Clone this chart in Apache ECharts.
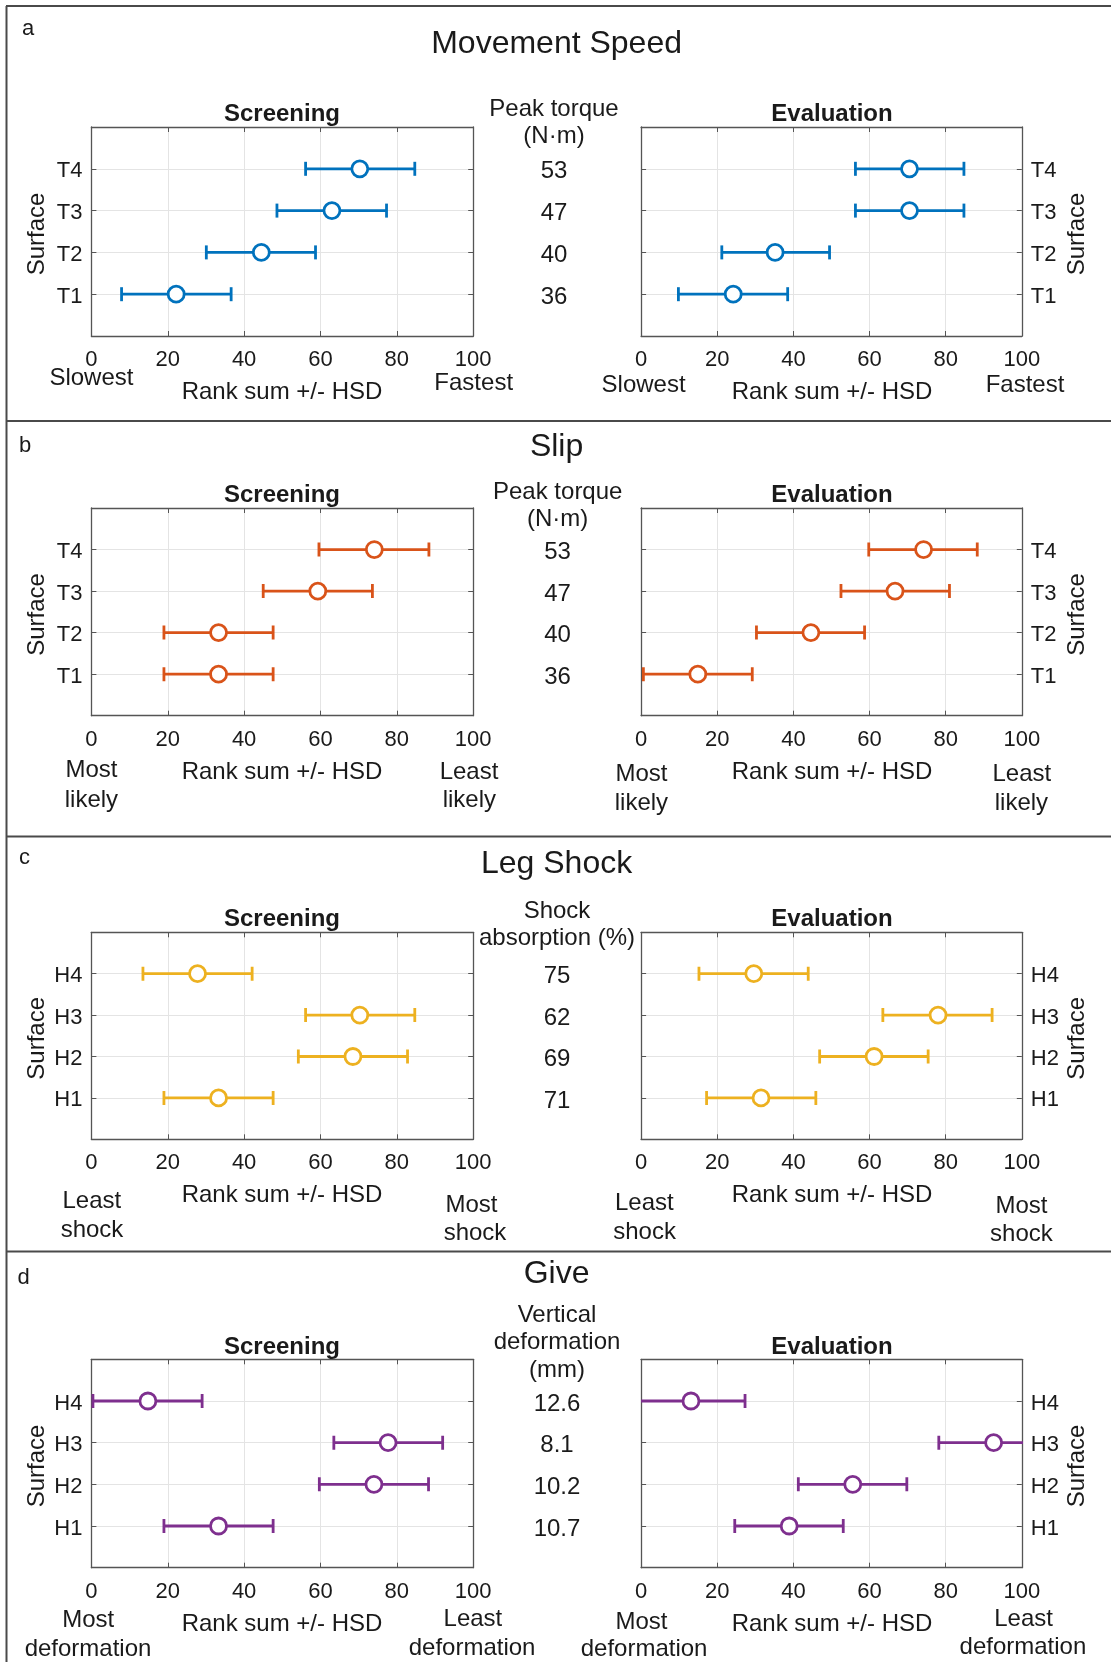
<!DOCTYPE html>
<html><head><meta charset="utf-8">
<script src="https://cdn.jsdelivr.net/npm/echarts@6/dist/echarts.min.js"></script>
<style>html,body{margin:0;padding:0;background:#fff}#c{width:1111px;height:1662px}</style>
</head><body><div id="c"></div>
<script>
// ---------- DATA ----------
const xTicks = [0, 20, 40, 60, 80, 100];

const speedCats = ['T1', 'T2', 'T3', 'T4'];
const speedScrMean = [22.2, 44.5, 63.0, 70.3];
const speedScrLo   = [7.9, 30.1, 48.6, 56.1];
const speedScrHi   = [36.6, 58.7, 77.3, 84.7];
const speedEvalMean = [24.2, 35.2, 70.5, 70.5];
const speedEvalLo   = [9.8, 21.2, 56.3, 56.3];
const speedEvalHi   = [38.5, 49.5, 84.8, 84.8];
const peakTorque = ['36', '40', '47', '53'];

const slipCats = ['T1', 'T2', 'T3', 'T4'];
const slipScrMean = [33.3, 33.3, 59.3, 74.1];
const slipScrLo   = [19.0, 19.0, 45.0, 59.6];
const slipScrHi   = [47.6, 47.6, 73.6, 88.4];
const slipEvalMean = [14.9, 44.6, 66.7, 74.2];
const slipEvalLo   = [0.6, 30.3, 52.5, 59.8];
const slipEvalHi   = [29.2, 58.7, 81.0, 88.3];
const slipTorque = ['36', '40', '47', '53'];

const shockCats = ['H1', 'H2', 'H3', 'H4'];
const shockScrMean = [33.3, 68.5, 70.3, 27.8];
const shockScrLo   = [19.0, 54.2, 56.1, 13.5];
const shockScrHi   = [47.6, 82.8, 84.7, 42.1];
const shockEvalMean = [31.5, 61.2, 78.0, 29.6];
const shockEvalLo   = [17.2, 46.9, 63.5, 15.2];
const shockEvalHi   = [45.9, 75.4, 92.2, 43.9];
const shockAbsorption = ['71', '69', '62', '75'];

const giveCats = ['H1', 'H2', 'H3', 'H4'];
const giveScrMean = [33.3, 74.0, 77.7, 14.8];
const giveScrLo   = [19.0, 59.7, 63.5, 0.4];
const giveScrHi   = [47.6, 88.3, 92.0, 29.0];
const giveEvalMean = [38.9, 55.6, 92.6, 13.1];
const giveEvalLo   = [24.6, 41.3, 78.2, -1.2];
const giveEvalHi   = [53.1, 69.8, 106.9, 27.3];
const verticalDeformation = ['10.7', '10.2', '8.1', '12.6'];

// ---------- STYLE / LAYOUT ----------
const FONT = '"Liberation Sans", Arial, Helvetica, sans-serif';
const TXT = '#1a1a1a';
const AX = '#555555';
const GRIDC = '#e4e4e4';
const DY = 2.5; // text baseline nudge

const panels = [
  { cats: speedCats, color: '#0072BD', top: 127, h: 209, midX: 554,
    scr: [speedScrMean, speedScrLo, speedScrHi], ev: [speedEvalMean, speedEvalLo, speedEvalHi], center: peakTorque },
  { cats: slipCats, color: '#D95319', top: 508, h: 207.7, midX: 557.5,
    scr: [slipScrMean, slipScrLo, slipScrHi], ev: [slipEvalMean, slipEvalLo, slipEvalHi], center: slipTorque },
  { cats: shockCats, color: '#EDB120', top: 932.3, h: 207, midX: 557,
    scr: [shockScrMean, shockScrLo, shockScrHi], ev: [shockEvalMean, shockEvalLo, shockEvalHi], center: shockAbsorption },
  { cats: giveCats, color: '#7E2F8E', top: 1359.3, h: 208.4, midX: 557,
    scr: [giveScrMean, giveScrLo, giveScrHi], ev: [giveEvalMean, giveEvalLo, giveEvalHi], center: verticalDeformation }
];
const sides = [ { left: 91.4, width: 381.8 }, { left: 641.1, width: 380.7 } ];

const grid = [], xAxis = [], yAxis = [], series = [];

panels.forEach((p, k) => {
  [0, 1].forEach(s => {
    const g = k * 2 + s;
    const sd = sides[s];
    grid.push({ left: sd.left, top: p.top, width: sd.width, height: p.h, containLabel: false });
    const baseLine = { show: true, onZero: false, lineStyle: { color: AX, width: 1.3 } };
    const tick = { show: true, inside: true, length: 5, lineStyle: { color: AX, width: 1 } };
    xAxis.push({
      gridIndex: g, type: 'value', min: 0, max: 100, interval: 20, position: 'bottom',
      axisLine: baseLine, axisTick: tick,
      axisLabel: { show: true, margin: 13, fontSize: 22, color: TXT, fontFamily: FONT,
        formatter: v => xTicks.indexOf(v) >= 0 ? String(v) : '' },
      splitLine: { show: true, lineStyle: { color: GRIDC, width: 1 } }
    });
    xAxis.push({
      gridIndex: g, type: 'value', min: 0, max: 100, interval: 20, position: 'top',
      axisLine: baseLine, axisTick: tick, axisLabel: { show: false }, splitLine: { show: false }
    });
    yAxis.push({
      gridIndex: g, type: 'value', min: 0, max: 5, interval: 1, position: s ? 'right' : 'left',
      axisLine: baseLine, axisTick: tick,
      axisLabel: { show: true, margin: 9, color: TXT, fontFamily: FONT,
        formatter: v => p.cats[v - 1] ? '{a|' + p.cats[v - 1] + '}' : '',
        rich: { a: { fontSize: 22, fontFamily: FONT, color: TXT, padding: [5, 0, 0, 0] } } },
      splitLine: { show: true, lineStyle: { color: GRIDC, width: 1 } }
    });
    yAxis.push({
      gridIndex: g, type: 'value', min: 0, max: 5, interval: 1, position: s ? 'left' : 'right',
      axisLine: baseLine, axisTick: tick,
      axisLabel: s ? { show: false } : { show: true, align: 'center', margin: p.midX - (sd.left + sd.width),
        color: TXT, fontFamily: FONT,
        formatter: v => p.center[v - 1] ? '{b|' + p.center[v - 1] + '}' : '',
        rich: { b: { fontSize: 24, fontFamily: FONT, color: TXT, padding: [6, 0, 0, 0] } } },
      splitLine: { show: false }
    });
    const d = s ? p.ev : p.scr;
    const mean = d[0], lo = d[1], hi = d[2];
    series.push({
      type: 'custom', xAxisIndex: g * 2, yAxisIndex: g * 2, clip: true, z: 3,
      encode: { x: [0, 1], y: 2 },
      data: p.cats.map((c, i) => [lo[i], hi[i], i + 1]),
      renderItem: (params, api) => {
        const y = api.value(2);
        const a = api.coord([api.value(0), y]);
        const b = api.coord([api.value(1), y]);
        const cap = 7;
        const st = { stroke: p.color, lineWidth: 2.8, fill: null };
        return { type: 'group', children: [
          { type: 'line', shape: { x1: a[0], y1: a[1], x2: b[0], y2: b[1] }, style: st },
          { type: 'line', shape: { x1: a[0], y1: a[1] - cap, x2: a[0], y2: a[1] + cap }, style: st },
          { type: 'line', shape: { x1: b[0], y1: b[1] - cap, x2: b[0], y2: b[1] + cap }, style: st }
        ] };
      }
    });
    series.push({
      type: 'scatter', xAxisIndex: g * 2, yAxisIndex: g * 2, z: 4,
      symbol: 'circle', symbolSize: 16,
      itemStyle: { color: '#ffffff', borderColor: p.color, borderWidth: 2.8, opacity: 1 },
      emphasis: { disabled: true },
      data: mean.map((m, i) => [m, i + 1])
    });
  });
});

// ---------- free text ----------
const T = (text, x, y, size, extra) => Object.assign({
  type: 'text', x: x, y: y + DY, z: 10,
  style: { text: text, fontSize: size || 24, fontFamily: FONT, fill: TXT, align: 'center', verticalAlign: 'middle',
    fontWeight: (extra && extra.bold) ? 'bold' : 'normal' }
}, extra && extra.rot ? { rotation: Math.PI / 2 } : {});

const texts = [
  // panel a
  T('a', 28, 26, 22), T('Movement Speed', 556.6, 42, 32),
  T('Screening', 282, 112, 24, { bold: true }), T('Evaluation', 832, 112, 24, { bold: true }),
  T('Peak torque', 554, 106.5), T('(N·m)', 554, 134),
  T('Surface', 37.5, 231.5, 24, { rot: true }), T('Surface', 1077, 231.5, 24, { rot: true }),
  T('Slowest', 91.4, 376), T('Fastest', 473.7, 380.7), T('Rank sum +/- HSD', 282, 389.5),
  T('Slowest', 643.6, 382.5), T('Fastest', 1025, 383), T('Rank sum +/- HSD', 832, 389.5),
  // panel b
  T('b', 25, 443.5, 22), T('Slip', 556.6, 445, 32),
  T('Screening', 282, 492.5, 24, { bold: true }), T('Evaluation', 832, 492.5, 24, { bold: true }),
  T('Peak torque', 557.7, 489.5), T('(N·m)', 557.7, 517),
  T('Surface', 37.5, 612, 24, { rot: true }), T('Surface', 1077, 612, 24, { rot: true }),
  T('Most', 91.4, 768.3), T('likely', 91.4, 797.7), T('Least', 469, 770), T('likely', 469.3, 798.3),
  T('Rank sum +/- HSD', 282, 770),
  T('Most', 641.4, 771.5), T('likely', 641.4, 800.5), T('Least', 1021.8, 771.5), T('likely', 1021.4, 800.5),
  T('Rank sum +/- HSD', 832, 770),
  // panel c
  T('c', 24.5, 855, 22), T('Leg Shock', 556.6, 861.5, 32),
  T('Screening', 282, 916.5, 24, { bold: true }), T('Evaluation', 832, 916.5, 24, { bold: true }),
  T('Shock', 557, 908.5), T('absorption (%)', 557, 935.5),
  T('Surface', 37.5, 1035.8, 24, { rot: true }), T('Surface', 1077, 1035.8, 24, { rot: true }),
  T('Least', 91.8, 1199.3), T('shock', 92, 1227.7), T('Most', 471.4, 1203), T('shock', 475, 1231),
  T('Rank sum +/- HSD', 282, 1193.3),
  T('Least', 644.3, 1201), T('shock', 644.6, 1230.3), T('Most', 1021.4, 1203.7), T('shock', 1021.4, 1232),
  T('Rank sum +/- HSD', 832, 1193.3),
  // panel d
  T('d', 23.5, 1275, 22), T('Give', 556.6, 1272, 32),
  T('Screening', 282, 1345, 24, { bold: true }), T('Evaluation', 832, 1345, 24, { bold: true }),
  T('Vertical', 557, 1313), T('deformation', 557, 1340), T('(mm)', 557, 1368),
  T('Surface', 37.5, 1463.5, 24, { rot: true }), T('Surface', 1077, 1463.5, 24, { rot: true }),
  T('Most', 88.2, 1618.3), T('deformation', 88, 1646.7), T('Least', 472.9, 1616.7), T('deformation', 472.1, 1645.7),
  T('Rank sum +/- HSD', 282, 1621.7),
  T('Most', 641.4, 1619.7), T('deformation', 644.1, 1647.3), T('Least', 1023.6, 1616.7), T('deformation', 1022.9, 1645),
  T('Rank sum +/- HSD', 832, 1621.7)
];

const B = '#4a4a4a';
const L = (x1, y1, x2, y2) => ({ type: 'line', z: 1, shape: { x1, y1, x2, y2 }, style: { stroke: B, lineWidth: 2 } });
const borders = [
  L(6, 6, 1111, 6), L(6.5, 6, 6.5, 1662),
  L(6, 421, 1111, 421), L(6, 836.5, 1111, 836.5), L(6, 1251.5, 1111, 1251.5)
];

const chart = echarts.init(document.getElementById('c'), null, { renderer: 'canvas' });
chart.setOption({
  animation: false,
  backgroundColor: '#ffffff',
  textStyle: { fontFamily: FONT },
  grid, xAxis, yAxis, series,
  graphic: { elements: borders.concat(texts) }
});
</script></body></html>
